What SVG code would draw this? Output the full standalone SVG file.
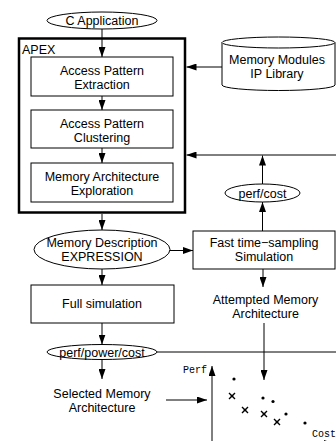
<svg xmlns="http://www.w3.org/2000/svg" width="336" height="441" viewBox="0 0 336 441">
  <style>
    .box { fill: #ffffff; stroke: #000000; stroke-width: 1; }
    .apex { fill: none; stroke: #000000; stroke-width: 2.5; }
    .lbl { font-family: "Liberation Sans", Arial, Helvetica, sans-serif; font-size: 12.5px; fill: #000000; text-anchor: middle; }
    .mono { font-family: "Liberation Mono", "Courier New", monospace; font-size: 10px; fill: #000000; }
    .wire { fill: none; stroke: #000000; stroke-width: 1; }
    .dot { fill: #000000; }
    .cross { stroke: #000000; stroke-width: 1.4; fill: none; }
  </style>
  <defs>
    <marker id="arrow" markerUnits="userSpaceOnUse" markerWidth="10" markerHeight="7" refX="10" refY="3.5" orient="auto">
      <path d="M0,0 L10,3.5 L0,7 z" fill="#000000"/>
    </marker>
  </defs>

  <rect x="0" y="0" width="336" height="441" fill="#ffffff"/>

  <!-- APEX frame -->
  <g id="apex">
    <rect class="apex" x="19" y="38.5" width="166" height="174"/>
    <text class="lbl" x="22" y="54" style="text-anchor:start">APEX</text>
  </g>

  <g id="c-application">
    <ellipse class="box" cx="102" cy="20.5" rx="55" ry="8.5"/>
    <text class="lbl" x="102" y="25">C Application</text>
  </g>

  <g id="extraction">
    <rect class="box" x="31" y="57" width="142" height="39"/>
    <text class="lbl" x="102" y="74.5">Access Pattern</text>
    <text class="lbl" x="102" y="88.5">Extraction</text>
  </g>

  <g id="clustering">
    <rect class="box" x="31" y="110" width="142" height="38"/>
    <text class="lbl" x="102" y="128">Access Pattern</text>
    <text class="lbl" x="102" y="142">Clustering</text>
  </g>

  <g id="exploration">
    <rect class="box" x="31" y="163" width="142" height="39"/>
    <text class="lbl" x="102" y="180.5">Memory Architecture</text>
    <text class="lbl" x="102" y="194.5">Exploration</text>
  </g>

  <g id="ip-library">
    <path class="box" d="M222,42.5 L222,85 A56.5,5.5 0 0 0 335,85 L335,42.5"/>
    <ellipse class="box" cx="278.5" cy="42.5" rx="56.5" ry="5.5"/>
    <text class="lbl" x="277" y="63.5">Memory Modules</text>
    <text class="lbl" x="277" y="77.5">IP Library</text>
  </g>

  <g id="perf-cost">
    <ellipse class="box" cx="262.5" cy="193" rx="37.5" ry="9"/>
    <text class="lbl" x="262.5" y="197.5">perf/cost</text>
  </g>

  <g id="memory-description">
    <ellipse class="box" cx="102" cy="249.5" rx="68" ry="19.5"/>
    <text class="lbl" x="102" y="247">Memory Description</text>
    <text class="lbl" x="102" y="261">EXPRESSION</text>
  </g>

  <g id="fast-simulation">
    <rect class="box" x="193" y="231" width="142" height="38"/>
    <text class="lbl" x="264" y="247">Fast time−sampling</text>
    <text class="lbl" x="264" y="261">Simulation</text>
  </g>

  <g id="full-simulation">
    <rect class="box" x="31" y="285" width="143" height="38"/>
    <text class="lbl" x="102" y="308">Full simulation</text>
  </g>

  <g id="perf-power-cost">
    <ellipse class="box" cx="102" cy="352" rx="55" ry="7.5"/>
    <text class="lbl" x="102" y="356.5">perf/power/cost</text>
  </g>

  <g id="selected-architecture">
    <text class="lbl" x="102" y="397.5">Selected Memory</text>
    <text class="lbl" x="102" y="411.5">Architecture</text>
  </g>

  <g id="attempted-architecture">
    <text class="lbl" x="265.5" y="303.5">Attempted Memory</text>
    <text class="lbl" x="265.5" y="317.5">Architecture</text>
  </g>

  <!-- perf / cost scatter plot -->
  <g id="plot">
    <text class="mono" x="183" y="373">Perf</text>
    <text class="mono" x="312" y="437">Cost</text>
    <g class="points">
      <circle class="dot" cx="234" cy="379" r="1.6"/>
      <circle class="dot" cx="263" cy="398" r="1.6"/>
      <circle class="dot" cx="273" cy="401.5" r="1.6"/>
      <circle class="dot" cx="286" cy="414" r="1.6"/>
      <circle class="dot" cx="305" cy="423" r="1.6"/>
    </g>
    <g class="crosses">
      <path class="cross" d="M229,393 l6,6 M235,393 l-6,6"/>
      <circle class="dot" cx="232" cy="396" r="1.3"/>
      <path class="cross" d="M242,407 l6,6 M248,407 l-6,6"/>
      <circle class="dot" cx="245" cy="410" r="1.3"/>
      <path class="cross" d="M261,411 l6,6 M267,411 l-6,6"/>
      <circle class="dot" cx="264" cy="414" r="1.3"/>
      <path class="cross" d="M274,419 l6,6 M280,419 l-6,6"/>
      <circle class="dot" cx="277" cy="422" r="1.3"/>
    </g>
  </g>

  <g id="connectors">
    <line class="wire" x1="102" y1="29" x2="102" y2="57" marker-end="url(#arrow)"/>
    <line class="wire" x1="102" y1="96" x2="102" y2="110" marker-end="url(#arrow)"/>
    <line class="wire" x1="102" y1="148" x2="102" y2="163" marker-end="url(#arrow)"/>
    <line class="wire" x1="102" y1="214" x2="102" y2="230" marker-end="url(#arrow)"/>
    <line class="wire" x1="102" y1="269" x2="102" y2="285" marker-end="url(#arrow)"/>
    <line class="wire" x1="102" y1="323" x2="102" y2="344.5" marker-end="url(#arrow)"/>
    <line class="wire" x1="102" y1="359.5" x2="102" y2="379" marker-end="url(#arrow)"/>
    <line class="wire" x1="222" y1="67" x2="186.5" y2="67" marker-end="url(#arrow)"/>
    <line class="wire" x1="336" y1="155" x2="186.5" y2="155" marker-end="url(#arrow)"/>
    <line class="wire" x1="262.5" y1="184" x2="262.5" y2="155.5" marker-end="url(#arrow)"/>
    <line class="wire" x1="262.5" y1="231" x2="262.5" y2="202" marker-end="url(#arrow)"/>
    <line class="wire" x1="170" y1="250.5" x2="193" y2="250.5" marker-end="url(#arrow)"/>
    <line class="wire" x1="263" y1="269" x2="263" y2="287" marker-end="url(#arrow)"/>
    <line class="wire" x1="264" y1="323" x2="264" y2="380" marker-end="url(#arrow)"/>
    <line class="wire" x1="157" y1="352" x2="336" y2="352"/>
    <line class="wire" x1="166" y1="400" x2="207" y2="400" marker-end="url(#arrow)"/>
    <line class="wire" x1="212" y1="441" x2="212" y2="366" marker-end="url(#arrow)"/>
    <line class="wire" x1="212" y1="443.5" x2="334" y2="443.5" marker-end="url(#arrow)"/>
  </g>
</svg>
